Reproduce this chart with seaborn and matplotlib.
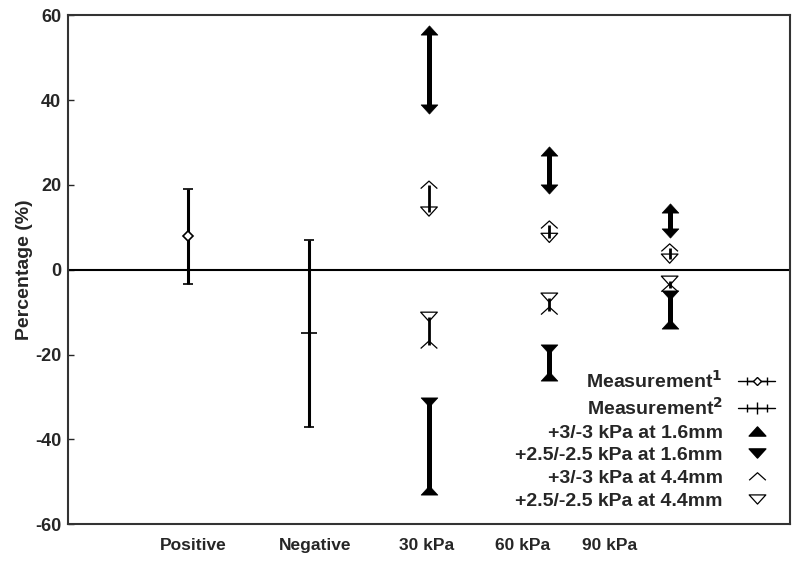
import numpy as np
import pandas as pd
import matplotlib
matplotlib.use('Agg')
import matplotlib.pyplot as plt
from matplotlib.path import Path
from matplotlib.lines import Line2D
import seaborn as sns

# ---------------- data ----------------
categories = ['Positive', 'Negative', '30 kPa', '60 kPa', '90 kPa']
pressures = ['30 kPa', '60 kPa', '90 kPa']

meas1_cat = ['Positive']
meas1_mean = [8.0]
meas1_low = [-3.3]
meas1_high = [19.1]

meas2_cat = ['Negative']
meas2_mean = [-15.0]
meas2_low = [-37.1]
meas2_high = [7.1]

up16_pos = [56.5, 28.0, 14.6]     # +3 kPa at 1.6mm
up16_neg = [-52.0, -25.0, -12.8]  # -3 kPa at 1.6mm
dn16_pos = [37.8, 19.0, 8.7]      # +2.5 kPa at 1.6mm
dn16_neg = [-31.2, -18.7, -6.0]   # -2.5 kPa at 1.6mm
up44_pos = [20.0, 10.6, 5.2]      # +3 kPa at 4.4mm
up44_neg = [-17.7, -9.7, -4.3]    # -3 kPa at 4.4mm
dn44_pos = [13.7, 7.5, 2.6]       # +2.5 kPa at 4.4mm
dn44_neg = [-11.1, -6.6, -2.6]    # -2.5 kPa at 4.4mm

yticks = [-60, -40, -20, 0, 20, 40, 60]

labels = ['Measurement$^\\mathbf{1}$', 'Measurement$^\\mathbf{2}$',
          '+3/-3 kPa at 1.6mm', '+2.5/-2.5 kPa at 1.6mm',
          '+3/-3 kPa at 4.4mm', '+2.5/-2.5 kPa at 4.4mm']

# ---------------- style ----------------
sns.set_style('white')
plt.rcParams['font.family'] = ['Liberation Sans', 'DejaVu Sans']
plt.rcParams['font.weight'] = 'bold'
plt.rcParams['mathtext.default'] = 'bf'

fig = plt.figure(figsize=(8.0, 5.63), dpi=100)
ax = fig.add_axes([0.085, 0.069, 0.9025, 0.904])

xpos = {c: i for i, c in enumerate(categories)}
px = np.array([xpos[p] for p in pressures], dtype=float)

# marker shapes (flattened triangles)
tri_up = Path([(0, 0.55), (-1, -0.55), (1, -0.55), (0, 0.55)],
              [Path.MOVETO, Path.LINETO, Path.LINETO, Path.CLOSEPOLY])
tri_dn = Path([(0, -0.55), (-1, 0.55), (1, 0.55), (0, -0.55)],
              [Path.MOVETO, Path.LINETO, Path.LINETO, Path.CLOSEPOLY])
caret_up = Path([(-1, -0.45), (0, 0.45), (1, -0.45)],
                [Path.MOVETO, Path.LINETO, Path.LINETO])

# connecting lines
ax.vlines(px, up16_pos, dn16_pos, color='black', lw=3.6, zorder=2)
ax.vlines(px, up16_neg, dn16_neg, color='black', lw=3.6, zorder=2)
ax.vlines(px, up44_pos, dn44_pos, color='black', lw=2.0, zorder=2)
ax.vlines(px, up44_neg, dn44_neg, color='black', lw=2.0, zorder=2)

# markers via seaborn
def pts(pos, neg):
    return pd.DataFrame({'x': np.concatenate([px, px]),
                         'y': np.concatenate([pos, neg])})

ms = 12
sns.scatterplot(data=pts(up16_pos, up16_neg), x='x', y='y', marker=tri_up,
                s=ms ** 2, color='black', edgecolor='black', linewidth=0.5,
                ax=ax, zorder=3)
sns.scatterplot(data=pts(dn16_pos, dn16_neg), x='x', y='y', marker=tri_dn,
                s=ms ** 2, color='black', edgecolor='black', linewidth=0.5,
                ax=ax, zorder=3)
sns.scatterplot(data=pts(up44_pos, up44_neg), x='x', y='y', marker=caret_up,
                s=ms ** 2, facecolor='none', edgecolor='black', linewidth=0.9,
                ax=ax, zorder=3)
sns.scatterplot(data=pts(dn44_pos, dn44_neg), x='x', y='y', marker=tri_dn,
                s=ms ** 2, facecolor='none', edgecolor='black', linewidth=0.9,
                ax=ax, zorder=3)

# measurement error bars
m1x = [xpos[c] for c in meas1_cat]
ax.errorbar(m1x, meas1_mean,
            yerr=[np.subtract(meas1_mean, meas1_low), np.subtract(meas1_high, meas1_mean)],
            fmt='D', ms=5, mfc='white', mec='black', mew=1.2, ecolor='black',
            elinewidth=2.2, capsize=3.5, capthick=2.5, zorder=4)
m2x = [xpos[c] for c in meas2_cat]
ax.errorbar(m2x, meas2_mean,
            yerr=[np.subtract(meas2_mean, meas2_low), np.subtract(meas2_high, meas2_mean)],
            fmt='_', ms=12, mec='black', mew=1.2, ecolor='black',
            elinewidth=2.2, capsize=3.5, capthick=2.5, zorder=4)

ax.axhline(0, color='black', lw=1.5, zorder=1)

# legend proxies
h1 = ax.errorbar([np.nan], [np.nan], xerr=[1], fmt='-D', color='black', lw=1,
                 ms=4, mfc='white', mec='black', mew=1, capsize=3, capthick=1)
h2 = ax.errorbar([np.nan], [np.nan], xerr=[1], fmt='-|', color='black', lw=1,
                 ms=8, mec='black', mew=1, capsize=3, capthick=1)
h3 = Line2D([], [], ls='none', marker=tri_up, ms=ms, color='black')
h4 = Line2D([], [], ls='none', marker=tri_dn, ms=ms, color='black')
h5 = Line2D([], [], ls='none', marker=caret_up, ms=ms, mfc='none', mec='black', mew=0.9)
h6 = Line2D([], [], ls='none', marker=tri_dn, ms=ms, mfc='none', mec='black', mew=0.9)
leg = ax.legend([h1, h2, h3, h4, h5, h6], labels, loc='lower right',
                bbox_to_anchor=(1.0, 0.0), frameon=False, markerfirst=False,
                fontsize=14, handlelength=1.9, handletextpad=0.8,
                labelspacing=0.26, borderaxespad=0.35)
for t in leg.get_texts():
    t.set_ha('right')

# axes
ax.set_xlim(-1, 5)
ax.set_ylim(-60, 60)
ax.set_yticks(yticks)
ax.set_yticklabels([str(v) for v in yticks], fontsize=13, fontweight='bold')
ax.set_xticks(np.arange(len(categories)) + np.array([0.04, 0.05, -0.02, -0.22, -0.5]))
ax.set_xticklabels(categories, fontsize=12.5, fontweight='bold')
ax.tick_params(axis='x', length=0, pad=10)
ax.tick_params(axis='y', direction='in', length=4, width=1, pad=5, left=True)
ax.set_xlabel('')
ax.set_ylabel('Percentage (%)', fontsize=14, fontweight='bold', labelpad=1)
for s in ax.spines.values():
    s.set_color('#333333')
    s.set_linewidth(1.5)
    s.set_visible(True)

fig.savefig('out.png', dpi=100)
